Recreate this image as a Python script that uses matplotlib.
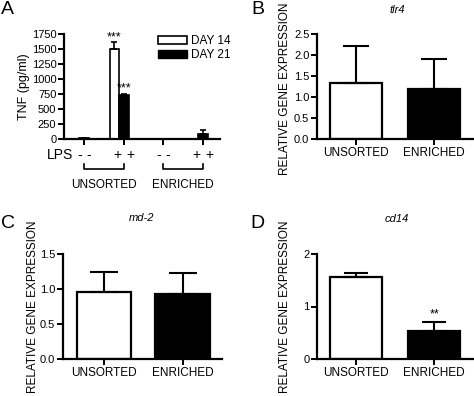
import matplotlib
matplotlib.use("Agg")
import matplotlib.pyplot as plt
from matplotlib.patches import Patch
import matplotlib.transforms as mtransforms

plt.rcParams['font.family'] = ['Liberation Sans', 'DejaVu Sans']

# ---------------- data ----------------
# Panel A: TNF (pg/ml)
a_groups = ["UNSORTED -LPS", "UNSORTED +LPS", "ENRICHED -LPS", "ENRICHED +LPS"]
a_lps = ["-", "+", "-", "+"]
a_day14 = [0, 1500, 0, 0]
a_day14_err = [0, 110, 0, 0]
a_day21 = [12, 730, 8, 85]
a_day21_err = [0, 25, 0, 65]
a_yticks = [0, 250, 500, 750, 1000, 1250, 1500, 1750]
a_series = ["DAY 14", "DAY 21"]
a_clusters = ["UNSORTED", "ENRICHED"]

# Panels B-D: relative gene expression
cats = ["UNSORTED", "ENRICHED"]
b_vals = [1.33, 1.18]
b_err = [0.89, 0.73]
c_vals = [0.957, 0.933]
c_err = [0.29, 0.29]
d_vals = [1.57, 0.54]
d_err = [0.07, 0.17]
genes = ["tlr4", "md-2", "cd14"]

W, H = 474, 396
fig = plt.figure(figsize=(W / 100, H / 100), dpi=100)


def px_axes(left, right, top, bottom):
    return fig.add_axes([left / W, 1 - bottom / H, (right - left) / W, (bottom - top) / H])


def style(ax):
    for s in ("top", "right"):
        ax.spines[s].set_visible(False)
    for s in ("left", "bottom"):
        ax.spines[s].set_linewidth(1.6)
    ax.tick_params(axis="both", direction="out", length=4, width=1.4, labelsize=8, pad=1.5)


axA = px_axes(64, 220, 34, 139)
axB = px_axes(317, 474, 34, 139)
axC = px_axes(63, 222, 254, 359)
axD = px_axes(317, 474, 254, 359)

# ---------------- Panel A ----------------
style(axA)
n = len(a_groups)
xt = list(range(n))
bw = 0.24
x14 = [x - bw for x in xt]
x21 = xt
axA.bar(x14, a_day14, width=bw, color="white", edgecolor="black", linewidth=1.2,
        yerr=[[0] * n, a_day14_err], capsize=2,
        error_kw=dict(elinewidth=1.2, capthick=1.2, ecolor="black"), zorder=2)
axA.bar(x21, a_day21, width=bw, color="black", edgecolor="black", linewidth=1.2,
        yerr=[[0] * n, a_day21_err], capsize=2,
        error_kw=dict(elinewidth=1.2, capthick=1.2, ecolor="black"), zorder=2)
axA.set_xlim(-0.51, 3.43)
axA.set_ylim(0, 1750)
axA.set_yticks(a_yticks)
axA.set_xticks(xt)
axA.set_xticklabels([])
axA.set_ylabel("TNF (pg/ml)", fontsize=9)
axA.yaxis.set_label_coords(-0.215, 0.5)

# significance
axA.text(x14[1], a_day14[1] + a_day14_err[1] - 15, "***", ha="center", va="bottom", fontsize=9)
axA.text(x21[1], a_day21[1] + a_day21_err[1] - 15, "***", ha="center", va="bottom", fontsize=9)

trA = mtransforms.blended_transform_factory(axA.transData, axA.transAxes)
axA.text(-0.61, -0.152, "LPS", transform=trA, ha="center", va="center", fontsize=10)
for i, s in enumerate(a_lps):
    d = 0.12 if s == "-" else 0.16
    for xx in (xt[i] - d, xt[i] + d):
        axA.text(xx, -0.152, s, transform=trA, ha="center", va="center", fontsize=10)
for k, name in enumerate(a_clusters):
    x0, x1 = xt[2 * k], xt[2 * k + 1]
    axA.plot([x0, x0, x1, x1], [-0.238, -0.286, -0.286, -0.238], color="black",
             lw=1.2, transform=trA, clip_on=False)
    axA.text((x0 + x1) / 2, -0.438, name, transform=trA, ha="center", va="center", fontsize=8.5)

leg = axA.legend([Patch(facecolor="white", edgecolor="black", linewidth=1.2),
                  Patch(facecolor="black", edgecolor="black")], a_series,
                 loc="upper left", bbox_to_anchor=(0.6, 0.99), frameon=False,
                 fontsize=8.5, handlelength=2.5, handleheight=0.7, labelspacing=0.15,
                 borderpad=0, borderaxespad=0, handletextpad=0.3)

# ---------------- Panels B-D ----------------
def gene_panel(ax, vals, errs, title, yticks, ylim, fmt, xlim, width, caps, labelx, labely):
    style(ax)
    x = list(range(len(cats)))
    ax.bar(x, vals, width=width, color=["white", "black"], edgecolor="black", linewidth=1.6,
           yerr=[[0] * len(vals), errs], capsize=caps,
           error_kw=dict(elinewidth=1.5, capthick=1.5, ecolor="black"), zorder=2)
    ax.set_xlim(*xlim)
    ax.set_ylim(*ylim)
    ax.set_yticks(yticks)
    ax.set_yticklabels([fmt.format(v) for v in yticks])
    ax.set_xticks(x)
    ax.set_xticklabels(cats, fontsize=8.5)
    ax.tick_params(axis="x", pad=2)
    ax.set_ylabel("RELATIVE GENE EXPRESSION", fontsize=8.5)
    ax.yaxis.set_label_coords(labelx, labely)


gene_panel(axB, b_vals, b_err, genes[0], [0, 0.5, 1.0, 1.5, 2.0, 2.5], (0, 2.5), "{:.1f}",
           (-0.5, 1.51), 0.67, 9.5, -0.165, 0.48)
gene_panel(axC, c_vals, c_err, genes[1], [0, 0.5, 1.0, 1.5], (0, 1.5), "{:.1f}",
           (-0.52, 1.50), 0.69, 10, -0.150, 0.5)
gene_panel(axD, d_vals, d_err, genes[2], [0, 1, 2], (0, 2), "{:.0f}",
           (-0.5, 1.51), 0.67, 8.5, -0.165, 0.5)
axD.text(1, d_vals[1] + d_err[1] + 0.03, "**", ha="center", va="bottom", fontsize=9)

# titles (italic gene names)
fig.text(397 / W, 1 - 10 / H, genes[0], ha="center", va="center", fontsize=8, style="italic")
fig.text(142 / W, 1 - 218 / H, genes[1], ha="center", va="center", fontsize=8, style="italic")
fig.text(397 / W, 1 - 219 / H, genes[2], ha="center", va="center", fontsize=8, style="italic")

# panel letters
fig.text(1 / W, 1 - 9 / H, "A", ha="left", va="center", fontsize=14)
fig.text(251 / W, 1 - 10 / H, "B", ha="left", va="center", fontsize=14)
fig.text(1 / W, 1 - 224 / H, "C", ha="left", va="center", fontsize=14)
fig.text(250 / W, 1 - 224 / H, "D", ha="left", va="center", fontsize=14)

fig.savefig("out.png", dpi=100)
